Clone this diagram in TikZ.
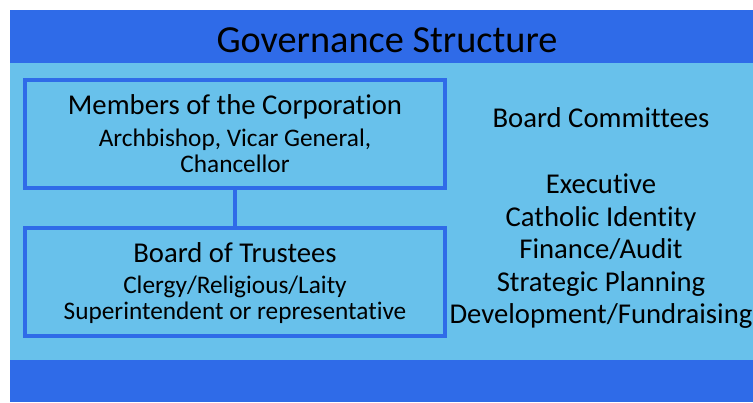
\documentclass[tikz,border=0pt]{standalone}
\usepackage{fontspec}
\setmainfont{Carlito}[Ligatures=NoCommon]
\definecolor{darkband}{RGB}{47,107,232}
\definecolor{lightpanel}{RGB}{104,193,235}
\begin{document}
\begin{tikzpicture}[x=1pt, y=-1pt,
    box/.style={draw=darkband, line width=4pt, minimum width=420pt, minimum height=108pt, inner sep=0pt},
    txt/.style={anchor=base, inner sep=0pt, text=black},
    big/.style={txt, font=\fontsize{28.7}{32}\selectfont},
    small/.style={txt, font=\fontsize{25.3}{28}\selectfont}]
  \useasboundingbox (0,0) rectangle (753,402);
  \fill[color=lightpanel] (10,10) rectangle (753,402);
  \fill[color=darkband] (10,10) rectangle (753,63);
  \fill[color=darkband] (10,360) rectangle (753,402);

  \node[txt, font=\fontsize{38.3}{44}\selectfont] (title) at (387,52){Governance Structure};

  \node[box] (corp)  at  (235,134){};
  \node[box] (board) at  (235,282){};
  \draw[color=darkband, line width=4pt] (corp) -- (board);

  \node[big]   (c1) at (235,114){Members of the Corporation};
  \node[small] (c2) at (235,146){Archbishop, Vicar General,};
  \node[small] (c3) at (235,172){Chancellor};

  \node[big]   (b1) at (235,262){Board of Trustees};
  \node[small] (b2) at (235,293){Clergy/Religious/Laity};
  \node[small] (b3) at (235,319){Superintendent or representative};

  \node[big] (k0) at (601,127){Board Committees};
  \node[big] (k1) at (601,193){Executive};
  \node[big] (k2) at (601,226){Catholic Identity};
  \node[big] (k3) at (601,258){Finance/Audit};
  \node[big] (k4) at (601,291){Strategic Planning};
  \node[big] (k5) at (601,323){Development/Fundraising};
  %\draw[color=darkband] (corp.east) -- (k0);
\end{tikzpicture}
\end{document}
